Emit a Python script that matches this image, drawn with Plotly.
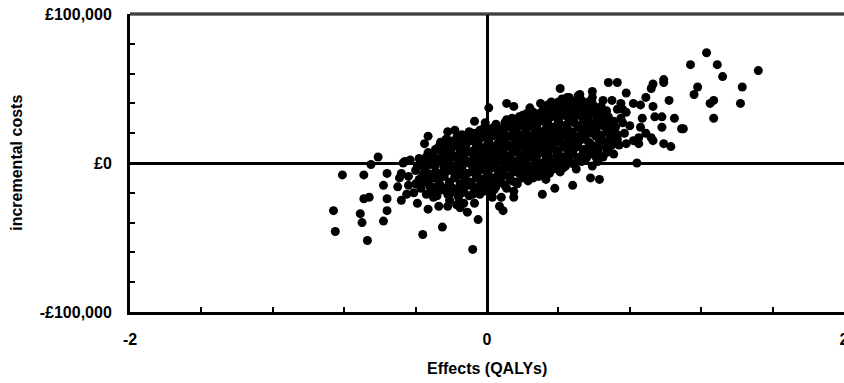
import plotly.graph_objects as go

# ---- data ----
# Effects in QALYs, incremental costs in £ thousands; line i of each list pairs up.
effects_qaly = [
    # left tail
    -0.86, -0.85, -0.81, -0.69, -0.67, -0.71, -0.70, -0.69, -0.66, -0.58,
    -0.56, -0.56, -0.58, -0.56, -0.61, -0.65, -0.49, -0.50, -0.48, -0.44,
    -0.41, -0.39, -0.33, -0.36, -0.25, -0.27, -0.22, -0.15, -0.47, -0.40,
    -0.38, -0.43, -0.30, -0.21, -0.17, -0.33, -0.22, -0.18, -0.33, -0.29,
    -0.24, -0.46, -0.48, -0.35, -0.44, -0.45, -0.31,
    # lower middle
    -0.05, -0.08, -0.07, -0.11, -0.13, 0.03, 0.08, 0.15, 0.09, 0.07,
    0.31, 0.38, 0.48, 0.33, 0.26, 0.58, 0.63, 0.62, 0.15,
    # upper middle
    -0.07, 0.01, 0.11, 0.15, 0.30, -0.01, 0.13, 0.18, 0.41, 0.45,
    0.68, 0.73, 0.59, 0.59, 0.65, 0.70, 0.64, 0.11, 0.24, 0.31,
    0.46, 0.53, 0.57, 0.45, 0.73,
    # right
    1.23, 1.14, 1.29, 1.52, 1.32, 1.18, 1.16, 1.43, 1.42, 1.25,
    1.27, 1.27, 1.02, 0.99, 0.99, 0.93, 0.92, 0.78, 1.05, 1.09,
    1.10, 0.98, 0.92, 0.99, 1.03, 0.93, 0.94, 0.98, 0.86, 0.89,
    0.87, 0.86, 0.89, 0.82, 0.78, 0.82, 0.84, 0.93, 0.78, 0.85,
    0.76, 0.77, 0.80, 0.75, 0.76, 0.85,
    # core, first pass
    -0.40, -0.39,
    -0.37, -0.36, -0.38,
    -0.34, -0.33, -0.35, -0.34,
    -0.31, -0.30, -0.32, -0.31,
    -0.28, -0.27, -0.29, -0.28, -0.27,
    -0.25, -0.26, -0.24, -0.25, -0.26,
    -0.22, -0.21, -0.23, -0.22, -0.21, -0.23,
    -0.19, -0.18, -0.20, -0.19, -0.18,
    -0.16, -0.15, -0.17, -0.16, -0.15, -0.17,
    -0.13, -0.12, -0.14, -0.13, -0.12, -0.14,
    -0.10, -0.09, -0.11, -0.10, -0.09, -0.11, -0.10,
    -0.07, -0.06, -0.08, -0.07, -0.06, -0.08,
    -0.04, -0.03, -0.05, -0.04, -0.03, -0.05, -0.04,
    -0.01, 0.00, -0.02, -0.01, 0.00, -0.02, -0.01,
    0.02, 0.03, 0.01, 0.02, 0.03, 0.01, 0.02,
    0.05, 0.06, 0.04, 0.05, 0.06, 0.04, 0.05,
    0.08, 0.09, 0.07, 0.08, 0.09, 0.07,
    0.11, 0.12, 0.10, 0.11, 0.12, 0.10, 0.11,
    0.14, 0.15, 0.13, 0.14, 0.15, 0.13, 0.14,
    0.17, 0.18, 0.16, 0.17, 0.18, 0.16, 0.17,
    0.20, 0.21, 0.19, 0.20, 0.21, 0.19, 0.20,
    0.23, 0.24, 0.22, 0.23, 0.24, 0.22, 0.23, 0.24,
    0.26, 0.27, 0.25, 0.26, 0.27, 0.25, 0.26,
    0.29, 0.30, 0.28, 0.29, 0.30, 0.28, 0.29,
    0.32, 0.33, 0.31, 0.32, 0.33, 0.31, 0.32,
    0.35, 0.36, 0.34, 0.35, 0.36, 0.34, 0.35, 0.36,
    0.38, 0.39, 0.37, 0.38, 0.39, 0.37, 0.38,
    0.41, 0.42, 0.40, 0.41, 0.42, 0.40, 0.41, 0.42,
    0.44, 0.45, 0.43, 0.44, 0.45, 0.43, 0.44,
    0.47, 0.48, 0.46, 0.47, 0.48, 0.46, 0.47,
    0.50, 0.51, 0.49, 0.50, 0.51, 0.49, 0.50, 0.51,
    0.53, 0.54, 0.52, 0.53, 0.54, 0.52, 0.53,
    0.56, 0.57, 0.55, 0.56, 0.57, 0.55,
    0.59, 0.60, 0.58, 0.59, 0.60, 0.58, 0.59,
    0.62, 0.63, 0.61, 0.62, 0.63,
    0.65, 0.66, 0.64, 0.65, 0.66,
    0.68, 0.69, 0.67, 0.68,
    0.71, 0.72, 0.70, 0.71,
    0.74, 0.73, 0.75,
    # core, second pass (in between)
    -0.35, -0.36,
    -0.32, -0.33, -0.32,
    -0.29, -0.30, -0.29, -0.30,
    -0.26, -0.27, -0.26, -0.27,
    -0.23, -0.24, -0.23, -0.24, -0.23,
    -0.20, -0.21, -0.20, -0.21, -0.20, -0.21,
    -0.17, -0.18, -0.17, -0.18, -0.17,
    -0.14, -0.15, -0.14, -0.15, -0.14,
    -0.11, -0.12, -0.11, -0.12, -0.11,
    -0.08, -0.09, -0.08, -0.09, -0.08, -0.09, -0.08,
    -0.05, -0.06, -0.05, -0.06, -0.05, -0.06,
    -0.02, -0.03, -0.02, -0.03, -0.02, -0.03, -0.02,
    0.01, 0.00, 0.01, 0.00, 0.01, 0.00,
    0.04, 0.03, 0.04, 0.03, 0.04, 0.03, 0.04,
    0.07, 0.06, 0.07, 0.06, 0.07, 0.06,
    0.10, 0.09, 0.10, 0.09, 0.10, 0.09, 0.10,
    0.13, 0.12, 0.13, 0.12, 0.13, 0.12,
    0.16, 0.15, 0.16, 0.15, 0.16, 0.15, 0.16,
    0.19, 0.18, 0.19, 0.18, 0.19, 0.18, 0.19,
    0.22, 0.21, 0.22, 0.21, 0.22, 0.21, 0.22,
    0.25, 0.24, 0.25, 0.24, 0.25, 0.24, 0.25, 0.24,
    0.28, 0.27, 0.28, 0.27, 0.28, 0.27,
    0.31, 0.30, 0.31, 0.30, 0.31, 0.30, 0.31,
    0.34, 0.33, 0.34, 0.33, 0.34, 0.33, 0.34,
    0.37, 0.36, 0.37, 0.36, 0.37, 0.36, 0.37,
    0.40, 0.39, 0.40, 0.39, 0.40, 0.39, 0.40,
    0.43, 0.42, 0.43, 0.42, 0.43, 0.42, 0.43,
    0.46, 0.45, 0.46, 0.45, 0.46, 0.45, 0.46,
    0.49, 0.48, 0.49, 0.48, 0.49, 0.48, 0.49,
    0.52, 0.51, 0.52, 0.51, 0.52, 0.51, 0.52,
    0.55, 0.54, 0.55, 0.54, 0.55, 0.54,
    0.58, 0.57, 0.58, 0.57, 0.58, 0.57,
    0.61, 0.60, 0.61, 0.60, 0.61, 0.60,
    0.64, 0.63, 0.64, 0.63,
    0.67, 0.66, 0.67, 0.66, 0.67,
    0.70, 0.69, 0.70,
    0.73, 0.72,
]

incremental_cost_k = [
    # left tail
    -32, -46, -8, -8, -52, -34, -40, -24, -23, -39,
    -32, -24, -15, -7, 4, -1, -10, -16, -25, -15,
    -20, -27, -31, -48, -43, -29, -29, -30, 0, -5,
    -11, 2, -23, -25, -28, 18, 21, 22, 7, 9,
    10, 1, -7, 13, -9, -21, -16,
    # lower middle
    -38, -58, -27, -33, -27, -23, -23, -19, -32, -29,
    -21, -17, -15, -11, -10, -10, -11, 1, -23,
    # upper middle
    28, 37, 40, 38, 40, 27, 28, 31, 50, 44,
    54, 54, 48, 44, 42, 42, 38, 29, 30, 32,
    37, 34, 32, 31, 36,
    # right
    74, 66, 66, 62, 58, 51, 46, 51, 40, 40,
    42, 30, 42, 56, 54, 53, 50, 47, 30, 23,
    23, 24, 17, 13, 11, 38, 31, 31, 39, 44,
    30, 24, 20, 15, 34, 40, 0, 15, 13, 13,
    27, 20, 25, 40, 36, 17,
    # core, first pass
    -14, -2,
    -17, -8, 3,
    -21, -12, -4, 4,
    -19, -9, -1, 6,
    -22, -14, -6, 2, 11,
    -18, -10, -3, 5, 14,
    -21, -13, -6, 1, 8, 16,
    -17, -9, -2, 5, 12,
    -23, -14, -6, 2, 9, 17,
    -19, -11, -3, 4, 11, 19,
    -22, -15, -7, 0, 7, 14, 21,
    -18, -10, -3, 4, 11, 18,
    -21, -13, -6, 1, 8, 15, 22,
    -17, -9, -2, 5, 12, 19, 24,
    -20, -12, -5, 2, 9, 16, 23,
    -16, -8, -1, 6, 13, 20, 26,
    -13, -5, 2, 9, 16, 23,
    -17, -9, -2, 5, 12, 19, 25,
    -12, -4, 3, 10, 17, 24, 30,
    -14, -7, 0, 7, 14, 21, 27,
    -10, -3, 4, 11, 18, 25, 32,
    -12, -5, 2, 9, 16, 23, 29, 35,
    -7, 0, 7, 14, 21, 27, 34,
    -9, -2, 5, 12, 19, 26, 33,
    -5, 2, 9, 16, 23, 30, 36,
    -7, 0, 7, 14, 21, 28, 35, 41,
    -3, 4, 11, 18, 25, 32, 38,
    -6, 1, 8, 15, 22, 29, 36, 43,
    -2, 5, 12, 19, 26, 33, 39,
    0, 7, 14, 21, 28, 35, 42,
    -4, 3, 10, 17, 24, 31, 38, 45,
    1, 8, 15, 22, 29, 36, 42,
    4, 11, 18, 25, 32, 39,
    -2, 6, 13, 20, 27, 34, 40,
    8, 15, 22, 29, 36,
    4, 11, 18, 25, 32,
    10, 17, 24, 31,
    6, 14, 21, 28,
    12, 19, 30,
    # core, second pass (in between)
    -13, 0,
    -16, -7, 1,
    -18, -10, -2, 5,
    -15, -7, 1, 9,
    -17, -9, -2, 5, 12,
    -20, -13, -5, 2, 9, 15,
    -18, -10, -3, 4, 12,
    -20, -8, 0, 7, 14,
    -15, -7, 1, 8, 16,
    -21, -13, -6, 1, 8, 15, 20,
    -16, -9, -1, 6, 13, 20,
    -19, -11, -4, 3, 10, 17, 23,
    -15, -7, 0, 7, 14, 21,
    -18, -10, -3, 4, 11, 18, 24,
    -12, -4, 3, 10, 17, 23,
    -15, -8, 0, 7, 14, 21, 27,
    -11, -3, 4, 11, 18, 25,
    -13, -6, 1, 8, 15, 22, 28,
    -9, -2, 5, 12, 19, 26, 31,
    -7, 0, 7, 14, 21, 28, 33,
    -9, -3, 4, 11, 18, 25, 31, 37,
    -5, 2, 9, 16, 23, 30,
    -7, 0, 7, 14, 21, 28, 35,
    -2, 5, 12, 19, 26, 33, 39,
    -4, 3, 10, 17, 24, 31, 37,
    0, 7, 14, 21, 28, 35, 41,
    -3, 4, 11, 18, 25, 32, 38,
    2, 9, 16, 23, 30, 37, 44,
    -1, 6, 13, 20, 27, 34, 40,
    4, 11, 18, 25, 32, 39, 46,
    2, 9, 16, 23, 30, 37,
    7, 14, 21, 28, 35, 41,
    4, 11, 18, 25, 32, 38,
    12, 19, 26, 33,
    7, 14, 21, 28, 35,
    12, 19, 26,
    16, 24,
]

x_tick_vals = [-2, -1.6, -1.2, -0.8, -0.4, 0, 0.4, 0.8, 1.2, 1.6, 2]
x_tick_text = ["-2", "", "", "", "", "0", "", "", "", "", "2"]
y_tick_vals = [-100000, -80000, -60000, -40000, -20000, 0,
               20000, 40000, 60000, 80000, 100000]
y_tick_text = ["-£100,000", "", "", "", "", "£0", "", "", "", "", "£100,000"]

x_title = "Effects (QALYs)"
y_title = "incremental costs"

# ---- figure ----
costs_gbp = [v * 1000 for v in incremental_cost_k]

FONT_FAMILY = "Liberation Sans, Arial, sans-serif"
font_main = dict(family=FONT_FAMILY, size=16, color="black", weight="bold")

fig = go.Figure()
fig.add_trace(go.Scatter(
    x=effects_qaly, y=costs_gbp, mode="markers",
    marker=dict(size=9, color="black", line=dict(width=0)),
    hoverinfo="skip", showlegend=False,
))

fig.update_layout(
    width=844, height=383,
    margin=dict(l=130, r=0, t=14, b=71, autoexpand=False),
    paper_bgcolor="white", plot_bgcolor="white",
    font=font_main,
    xaxis=dict(
        range=[-2, 2], tickvals=x_tick_vals, ticktext=x_tick_text,
        ticks="inside", ticklen=5, tickwidth=2, tickcolor="black",
        showgrid=False, zeroline=True, zerolinecolor="black", zerolinewidth=3,
        showline=True, linecolor="black", linewidth=3, automargin=False,
        tickfont=font_main, ticklabelstandoff=11, ticklabeloverflow="allow",
        fixedrange=True,
    ),
    yaxis=dict(
        range=[-100000, 100000], tickvals=y_tick_vals, ticktext=y_tick_text,
        ticks="inside", ticklen=5, tickwidth=2, tickcolor="black",
        showgrid=False, zeroline=True, zerolinecolor="black", zerolinewidth=3,
        showline=True, linecolor="black", linewidth=3, automargin=False,
        tickfont=font_main, ticklabelstandoff=12, ticklabeloverflow="allow",
        fixedrange=True,
    ),
    shapes=[
        dict(type="line", xref="paper", yref="paper", x0=0, x1=1, y0=1, y1=1,
             line=dict(color="black", width=3)),
        dict(type="line", xref="paper", yref="paper", x0=0, x1=1, y0=1, y1=1,
             line=dict(color="#808080", width=1)),
    ],
    annotations=[
        dict(text=x_title, xref="paper", yref="paper", x=0.5, y=-0.19,
             xanchor="center", yanchor="middle", showarrow=False,
             font=dict(family=FONT_FAMILY, size=16, color="black", weight="bold")),
        dict(text=y_title, xref="paper", yref="paper", x=-0.16, y=0.5,
             xanchor="center", yanchor="middle", showarrow=False, textangle=-90,
             font=dict(family=FONT_FAMILY, size=16, color="black", weight="bold")),
    ],
)

# Remove the page's default 8px body margin so the figure fills the window.
fig.write_html("out.html", config={"displayModeBar": False},
               post_script="document.body.style.margin='0';")
